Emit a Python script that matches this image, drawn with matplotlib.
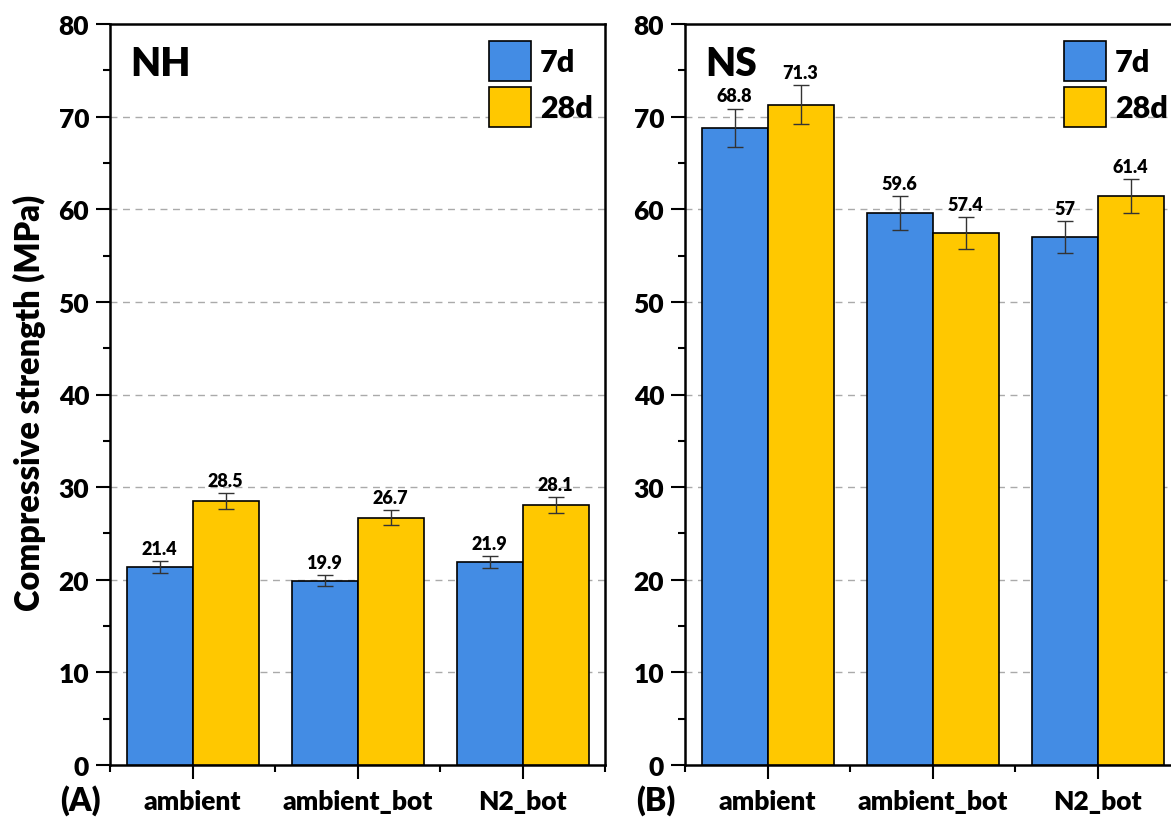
import numpy as np
import matplotlib
matplotlib.use("Agg")
import matplotlib.pyplot as plt
from matplotlib.patches import Patch

plt.rcParams['font.family'] = ['Lato', 'DejaVu Sans']
plt.rcParams['font.weight'] = 'heavy'
plt.rcParams['axes.labelweight'] = 'heavy'

groups = ['ambient', 'ambient_bot', 'N2_bot']
ages = ['7d', '28d']

nh_7d = [21.4, 19.9, 21.9]
nh_7d_err = [0.65, 0.6, 0.67]
nh_28d = [28.5, 26.7, 28.1]
nh_28d_err = [0.85, 0.8, 0.86]

ns_7d = [68.8, 59.6, 57.0]
ns_7d_err = [2.07, 1.8, 1.7]
ns_28d = [71.3, 57.4, 61.4]
ns_28d_err = [2.15, 1.73, 1.85]

blue = '#438ce4'
yellow = '#ffc800'

W, H = 1171, 820
fig = plt.figure(figsize=(W / 100, H / 100), dpi=100)

ax_w = 495 / W
ax_h = (766 - 25) / H
ax_y0 = (H - 766) / H
ax1 = fig.add_axes([110 / W, ax_y0, ax_w, ax_h])
ax2 = fig.add_axes([685 / W, ax_y0, ax_w, ax_h])


def panel(ax, v7, e7, v28, e28, title, tag):
    x = np.arange(len(groups))
    w = 0.4
    for vals, errs, col, off in [(v7, e7, blue, -w / 2), (v28, e28, yellow, w / 2)]:
        ax.bar(x + off, vals, w, color=col, edgecolor='black', linewidth=1.2, zorder=3)
        ax.errorbar(x + off, vals, yerr=errs, fmt='none', ecolor='#333333',
                    elinewidth=1.0, capsize=6, capthick=1.0, zorder=4)
        for xi, v, e in zip(x + off, vals, errs):
            ax.annotate('{:g}'.format(v), (xi, v + e), xytext=(0, 3),
                        textcoords='offset points', ha='center', va='bottom',
                        fontsize=13)

    ax.set_xlim(-0.5, 2.5)
    ax.set_ylim(0, 80)
    ax.set_yticks(np.arange(0, 81, 10))
    ax.set_yticks(np.arange(0, 81, 5), minor=True)
    ax.set_xticks(x)
    ax.set_xticklabels(groups)
    ax.set_xticks([-0.5, 0.5, 1.5, 2.5], minor=True)
    ax.tick_params(which='major', direction='out', length=10, width=1.5,
                   labelsize=19, pad=5)
    ax.tick_params(which='minor', direction='out', length=5, width=1.5)
    ax.tick_params(axis='x', which='major', pad=7)
    for s in ax.spines.values():
        s.set_linewidth(1.8)
    for yv in range(10, 80, 10):
        ax.axhline(yv, color='#aaaaaa', linewidth=1.0, linestyle=(0, (5, 4)), zorder=1)

    ax.text(0.04, 0.947, title, transform=ax.transAxes, fontsize=28,
            va='center', ha='left')
    ax.text(-0.06, -0.046, tag, transform=ax.transAxes, fontsize=23,
            va='center', ha='center')

    handles = [Patch(facecolor=blue, edgecolor='black', linewidth=1.2),
               Patch(facecolor=yellow, edgecolor='black', linewidth=1.2)]
    ax.legend(handles, ages, loc='upper right', bbox_to_anchor=(0.976, 0.977),
              frameon=False, handlelength=1.37, handleheight=1.65,
              labelspacing=0.18, handletextpad=0.3, borderpad=0, borderaxespad=0,
              prop={'weight': 'heavy', 'size': 22})


panel(ax1, nh_7d, nh_7d_err, nh_28d, nh_28d_err, 'NH', '(A)')
panel(ax2, ns_7d, ns_7d_err, ns_28d, ns_28d_err, 'NS', '(B)')

ax1.set_ylabel('Compressive strength (MPa)', fontsize=23.5)
ax1.yaxis.set_label_coords(-0.162, 0.49)
ax1.yaxis.label.set_va('center')

fig.savefig('out.png', dpi=100)
